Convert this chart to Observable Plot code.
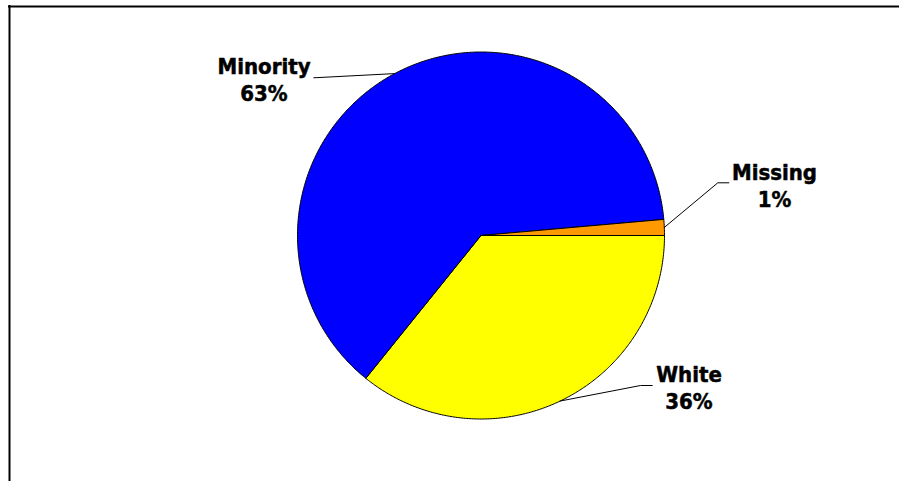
<!DOCTYPE html>
<html><head><meta charset="utf-8">
<script src="https://cdn.jsdelivr.net/npm/d3@7"></script>
<script src="https://cdn.jsdelivr.net/npm/@observablehq/plot@0.6"></script>
<style>html,body{margin:0;padding:0;background:#fff;overflow:hidden}</style>
</head><body><div id="chart"></div>
<script>
// Data (pie starts at 3 o'clock, runs clockwise)
const categories = ["White", "Minority", "Missing"];
const shares = [35.8, 62.8, 1.4];
const pctLabels = ["36%", "63%", "1%"];
const colors = ["#FFFF00", "#0000FF", "#FF9900"];

// Layout
const W = 899, H = 481, CX = 480.5, CY = 235, R = 183.5;
const labelLayout = {
  Minority: {x: 263.5, y: 78.5, leader: [[313.3, 77.3]]},
  Missing:  {x: 774,   y: 184.8, leader: [[717.3, 182.3], [728.3, 182.3]]},
  White:    {x: 688.5, y: 386.5, leader: [[640, 385], [651.7, 385]]}
};

const rows = categories.map((c, i) => ({c, v: shares[i], color: colors[i], label: c + "\n" + pctLabels[i]}));
const arcs = d3.pie().value(d => d.v).sort(null).startAngle(Math.PI / 2).endAngle(Math.PI / 2 + 2 * Math.PI)(rows);
const px = a => CX + R * Math.sin(a), py = a => CY - R * Math.cos(a);

const polys = [];
arcs.forEach(s => {
  const d = s.data;
  polys.push({c: d.c, color: d.color, x: CX, y: CY});
  const n = Math.max(4, Math.ceil((s.endAngle - s.startAngle) / (Math.PI / 360)));
  for (let k = 0; k <= n; k++) {
    const a = s.startAngle + (s.endAngle - s.startAngle) * k / n;
    polys.push({c: d.c, color: d.color, x: px(a), y: py(a)});
  }
  polys.push({c: d.c, color: d.color, x: CX, y: CY});
});

const leaders = [];
arcs.forEach(s => {
  const d = s.data, m = (s.startAngle + s.endAngle) / 2;
  leaders.push({c: d.c, x: px(m), y: py(m)});
  labelLayout[d.c].leader.forEach(([x, y]) => leaders.push({c: d.c, x, y}));
});
const labelRows = rows.map(d => ({label: d.label, x: labelLayout[d.c].x, y: labelLayout[d.c].y}));

const chart = Plot.plot({
  width: W, height: H, margin: 0,
  x: {domain: [0, W], range: [0, W], axis: null},
  y: {domain: [0, H], range: [0, H], axis: null},
  color: {type: "identity"},
  style: {background: "#fff"},
  marks: [
    Plot.line(polys, {x: "x", y: "y", z: "c", fill: "color", stroke: "#000", strokeWidth: 1, curve: "linear-closed"}),
    Plot.line(leaders, {x: "x", y: "y", z: "c", stroke: "#000", strokeWidth: 1}),
    Plot.text(labelRows, {x: "x", y: "y", text: "label", lineHeight: 1.227, fontSize: 22, fontWeight: "bold",
      fontFamily: "'DejaVu Sans Condensed', 'DejaVu Sans', sans-serif", fill: "#000", stroke: "#000", strokeWidth: 0.5, textAnchor: "middle"}),
    Plot.ruleX([9], {y1: 5, y2: H, stroke: "#000", strokeWidth: 2}),
    Plot.ruleY([6], {x1: 8, x2: W, stroke: "#000", strokeWidth: 2})
  ]
});
document.getElementById("chart").appendChild(chart);
</script>
</body></html>
